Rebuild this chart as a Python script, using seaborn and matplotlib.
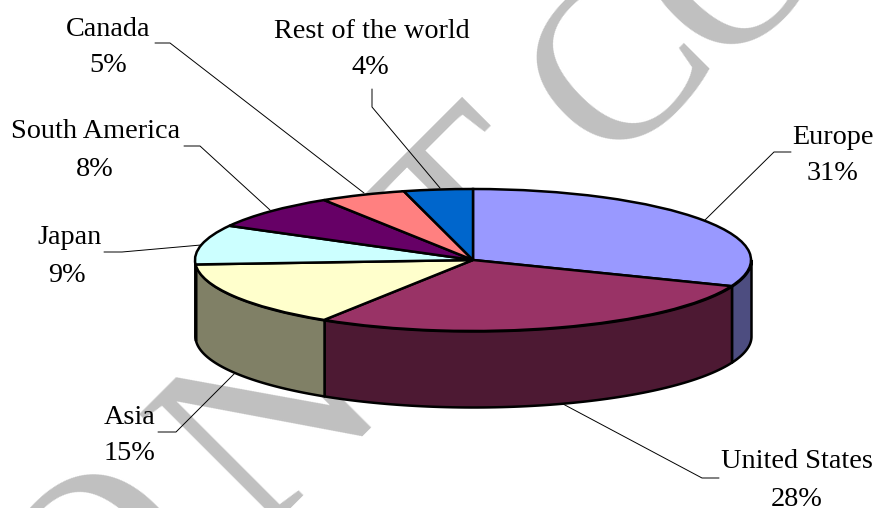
import numpy as np
import matplotlib

matplotlib.use('Agg')
import matplotlib.pyplot as plt
import seaborn as sns

# Chart data
regions = ['Europe', 'United States', 'Asia', 'Japan', 'South America', 'Canada', 'Rest of the world']
shares = [31, 28, 15, 9, 8, 5, 4]
top_colors = ['#9999FF', '#993366', '#FFFFCC', '#CCFFFF', '#660066', '#FF8080', '#0066CC']
side_colors = ['#4D4D80', '#4D1933', '#808066', '#668080', '#330033', '#804040', '#003366']

W, H = 874, 508

sns.set_theme(style='white')
plt.rcParams['font.family'] = ['Liberation Serif', 'DejaVu Serif']

fig = plt.figure(figsize=(W / 100, H / 100), dpi=100)

# Overlay in pixel coordinates for the watermark
bg = fig.add_axes([0, 0, 1, 1], zorder=1)
bg.set_xlim(0, W)
bg.set_ylim(H, 0)
bg.axis('off')

# Watermark
GRAY = '#C0C0C0'
for letter, x, y, size in [('O', 110, 575, 190), ('N', 277, 425, 190), ('T', 485, 225, 190),
                           ('C', 625, 72, 170), ('O', 740, -30, 170)]:
    bg.text(x, y, letter, fontsize=size, color=GRAY, rotation=45, ha='center', va='center',
            rotation_mode='anchor', zorder=1)

# Pie axes: the unit circle squashed to an ellipse
cx, cy, rx, ry, depth = 473, 260, 278, 71, 76
ax = fig.add_axes([(cx - rx) / W, 1 - (cy + ry) / H, 2 * rx / W, 2 * ry / H], zorder=2)
ax.patch.set_alpha(0)
wedges, _ = ax.pie(
    shares,
    colors=sns.color_palette(top_colors),
    startangle=90,
    counterclock=False,
    radius=1,
    wedgeprops={'edgecolor': 'black', 'linewidth': 1.8, 'zorder': 3},
)
ax.set_aspect('auto')
ax.set_xlim(-1, 1)
ax.set_ylim(-1, 1)

# Side wall, only the front half (quarter to three quarters of the way round)
fractions = np.cumsum([0] + shares) / sum(shares)
drop = depth / ry
for start, end, color in zip(fractions[:-1], fractions[1:], side_colors):
    start, end = max(start, 0.25), min(end, 0.75)
    if end <= start:
        continue
    theta = 2 * np.pi * np.linspace(start, end, 80)
    px, py = np.sin(theta), np.cos(theta)
    ax.fill_between(px, py, py - drop, facecolor=color, edgecolor='black', linewidth=1.8,
                    clip_on=False, zorder=2)
for w in wedges:
    w.set_clip_on(False)

# Labels on top of everything
fg = fig.add_axes([0, 0, 1, 1], zorder=3)
fg.set_xlim(0, W)
fg.set_ylim(H, 0)
fg.axis('off')

label_pos = {
    'Europe': ((833, 137), (833, 174)),
    'United States': ((797, 461), (797, 499)),
    'Asia': ((130, 417), (129, 454)),
    'Japan': ((70, 238), (67, 276)),
    'South America': ((96, 131), (95, 169)),
    'Canada': ((108, 30), (108, 66)),
    'Rest of the world': ((372, 31), (370, 67)),
}
leaders = {
    'Europe': [(791, 152), (774, 152), (705, 220)],
    'United States': [(719, 478), (702, 478), (563, 404)],
    'Asia': [(158, 432), (176, 432), (235, 373)],
    'Japan': [(104, 252), (122, 252), (201, 245)],
    'South America': [(184, 146), (200, 146), (270, 210)],
    'Canada': [(155, 43), (170, 43), (364, 193)],
    'Rest of the world': [(372, 89), (372, 107), (440, 188)],
}
for name, value in zip(regions, shares):
    (nx, ny), (vx, vy) = label_pos[name]
    fg.text(nx, ny, name, fontsize=20.3, color='black', ha='center', va='center')
    fg.text(vx, vy, f'{value}%', fontsize=20.3, color='black', ha='center', va='center')
    xs, ys = zip(*leaders[name])
    fg.plot(xs, ys, color='black', linewidth=0.7)

fig.savefig('out.png', dpi=100, facecolor='white')
